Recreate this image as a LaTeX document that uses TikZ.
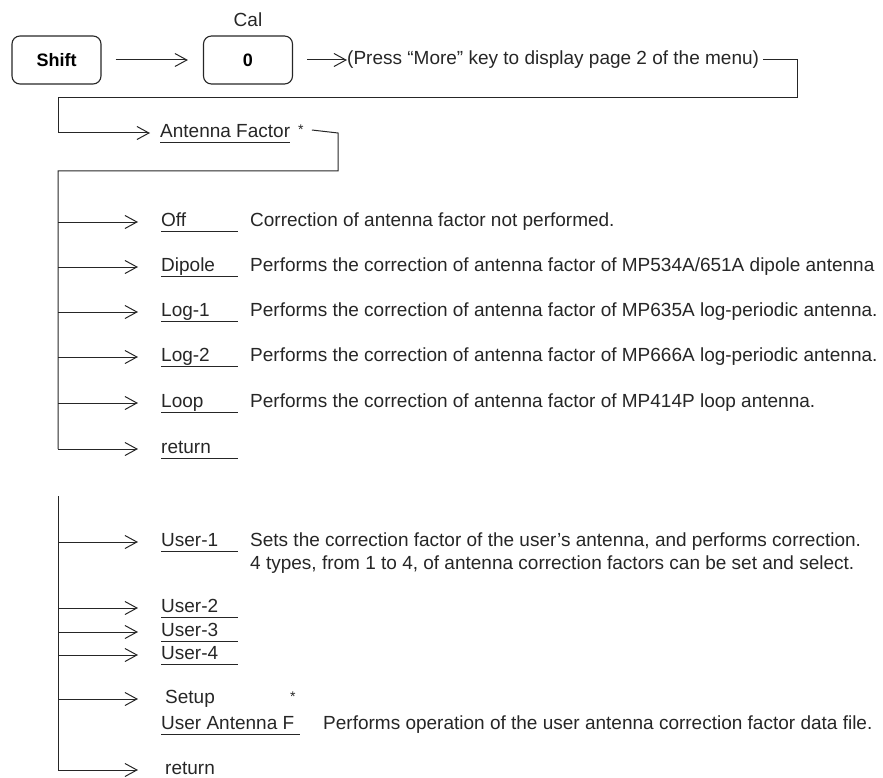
\documentclass[tikz,border=0pt]{standalone}
\usepackage{fontspec}
\setmainfont{Liberation Sans}
\usetikzlibrary{arrows.meta}
\definecolor{ink}{HTML}{262626}
\tikzset{
  key/.style={draw=ink, rounded corners=8pt, line width=1.1pt, minimum width=89pt, minimum height=48pt, inner sep=0pt, font=\fontsize{18}{22}\selectfont\bfseries},
  txt/.style={anchor=west, inner sep=0pt, text height=14pt, text depth=5pt, text=ink},
  lbl/.style={txt},
  star/.style={txt, font=\fontsize{14}{14}\selectfont, text height=9pt, text depth=0pt},
  arr/.style={draw=ink, line width=1pt, -{Straight Barb[length=12pt,width=13pt,line width=1pt]}},
  conn/.style={draw=ink, line width=1pt},
  uline/.style={draw=ink, line width=0.9pt}
}
\begin{document}
\begin{tikzpicture}[x=1pt,y=-1pt,font=\fontsize{19}{23}\selectfont]
\useasboundingbox (0,0) rectangle (883,778);
% top row
\node[key] (shift) at (56.5,60) {Shift};
\node[key] (zero) at (248,60) {0};
\node[text=ink, inner sep=0pt] (cal) at (248,20) {Cal};
\draw[arr, shorten <=14pt, shorten >=15pt] (shift) -- (zero);
\node[txt] (press) at (347,60) {(Press ``More'' key to display page 2 of the menu)};
\draw[arr, shorten <=14pt] (zero.east) -- (press.west);
\coordinate (c1) at (797,60);
\coordinate (c2) at (797,98);
\coordinate (c3) at (58,98);
\coordinate (c4) at (58,133);
\node[txt] (af) at (160,133) {Antenna Factor};
\draw[uline] (af.south west) -- (af.south east);
\node[star] (afstar) at (298,130) {*};
\draw[conn] ([xshift=4pt]press.east) -- (c1) -- (c2) -- (c3) -- (c4);
\draw[arr, shorten >=10pt] (c4) -- (af.west);
\coordinate (d1) at (338,133);
\coordinate (d2) at (338,171);
\coordinate (d3) at (58,171);
\coordinate (d4) at (58,449);
\draw[conn] ([xshift=8pt]afstar.east) -- (d1) -- (d2) -- (d3) -- (d4);
% group 1
\foreach \n/\y/\lab/\desc in {
  off/222/Off/{Correction of antenna factor not performed.},
  dip/267/Dipole/{Performs the correction of antenna factor of MP534A/651A dipole antenna},
  logA/312/Log-1/{Performs the correction of antenna factor of MP635A log-periodic antenna.},
  logB/357/Log-2/{Performs the correction of antenna factor of MP666A log-periodic antenna.},
  loop/403/Loop/{Performs the correction of antenna factor of MP414P loop antenna.}}{
  \coordinate (t\n) at (58,\y);
  \node[lbl] (\n) at (161,\y) {\lab};
  \draw[uline] (\n.south west) -- ++(77,0);
  \node[txt] (\n d) at (250,\y) {\desc};
  \draw[arr, shorten >=23pt] (t\n) -- (\n.west);
}
\node[lbl] (ret1) at (161,449) {return};
\draw[uline] (ret1.south west) -- ++(77,0);
\draw[arr, shorten >=23pt] (d4) -- (ret1.west);
% group 2
\coordinate (g1) at (58,496);
\coordinate (g2) at (58,770);
\draw[conn] (g1) -- (g2);
\foreach \n/\y/\lab in {usrA/542/User-1, usrB/608/User-2, usrC/632/User-3, usrD/655/User-4}{
  \coordinate (t\n) at (58,\y);
  \node[lbl] (\n) at (161,\y) {\lab};
  \draw[uline] (\n.south west) -- ++(77,0);
  \draw[arr, shorten >=23pt] (t\n) -- (\n.west);
}
\node[txt, align=left, anchor=north west, font=\fontsize{19}{23}\selectfont, text height=, text depth=] (usrAd) at (250,533)
  {Sets the correction factor of the user's antenna, and performs correction.\\
   4 types, from 1 to 4, of antenna correction factors can be set and select.};
\coordinate (tsetup) at (58,699);
\node[lbl] (setup) at (165,699) {Setup};
\node[star] (setupstar) at (290,697) {*};
\draw[arr, shorten >=27pt] (tsetup) -- (setup.west);
\node[lbl] (uaf) at (161,725) {User Antenna F};
\draw[uline] (uaf.south west) -- ++(139,0);
\node[txt] (uafd) at (323,725) {Performs operation of the user antenna correction factor data file.};
\node[lbl] (ret2) at (165,770) {return};
\draw[uline] (ret2.south west) -- ++(73,0);
\draw[arr, shorten >=27pt] (g2) -- (ret2.west);
\end{tikzpicture}
\end{document}
